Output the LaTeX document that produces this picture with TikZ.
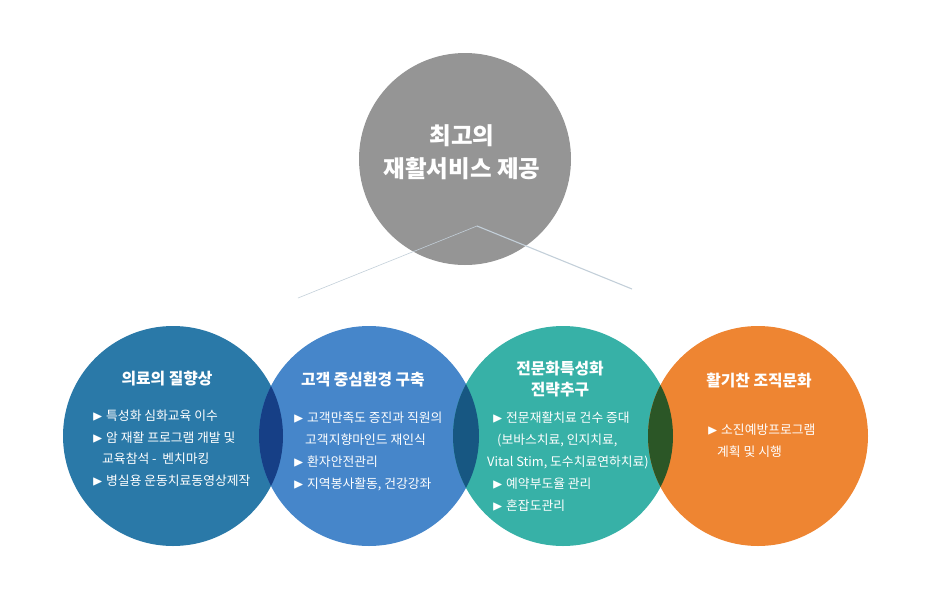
\documentclass[tikz,border=0pt]{standalone}
\usepackage{fontspec}
\usepackage{amssymb}
\setmainfont{Noto Sans CJK KR}
\usetikzlibrary{positioning}

\definecolor{topgray}{HTML}{959595}
\definecolor{careblue}{HTML}{2A79A8}
\definecolor{clientblue}{HTML}{4686CA}
\definecolor{expertteal}{HTML}{37B1A7}
\definecolor{cultureorange}{HTML}{EE8532}
\definecolor{careclient}{HTML}{163F86}
\definecolor{clientexpert}{HTML}{175782}
\definecolor{expertculture}{HTML}{2B5626}
\definecolor{fanline}{HTML}{C3CFD9}

\newcommand{\tri}{\makebox[14pt][l]{\scalebox{1.1}{$\blacktriangleright$}}}

\tikzset{
  bubble/.style={circle, minimum size=220pt, inner sep=0pt, draw=none},
  heading/.style={text=white, font=\bfseries\fontsize{15.8}{21}\selectfont, align=center},
  items/.style={text=white, font=\fontsize{12.8}{21.8}\selectfont, align=left, anchor=north west, inner sep=0pt}
}

\begin{document}
\begin{tikzpicture}[x=1pt,y=-1pt]
  \useasboundingbox (0,0) rectangle (930,590);

  % top circle
  \node[bubble, minimum size=212pt, fill=topgray] (best) at (465,159) {};
  \node[text=white, font=\bfseries\fontsize{23.5}{33}\selectfont, align=center] (besttext) at (462,152) {최고의\\재활서비스 제공};

  % fan lines under the top circle
  \coordinate (apex) at (477,226);
  \coordinate (fanleft) at (298,298);
  \coordinate (fanright) at (632,289);
  \draw[fanline, line width=0.6pt] (apex) -- (fanleft);
  \draw[fanline, line width=1.1pt] (apex) -- (fanright);

  % four circles
  \node[bubble, fill=careblue] (care) at (173,436) {};
  \node[bubble, fill=clientblue] (client) at (369,436) {};
  \node[bubble, fill=expertteal] (expert) at (563,436) {};
  \node[bubble, fill=cultureorange] (culture) at (758,436) {};

  % overlaps
  \begin{scope}
    \clip (care.center) circle (110pt);
    \fill[careclient] (client.center) circle (110pt);
  \end{scope}
  \begin{scope}
    \clip (client.center) circle (110pt);
    \fill[clientexpert] (expert.center) circle (110pt);
  \end{scope}
  \begin{scope}
    \clip (expert.center) circle (110pt);
    \fill[expertculture] (culture.center) circle (110pt);
  \end{scope}

  % headings
  \node[heading] (caretitle) at (167,379) {의료의 질향상};
  \node[heading] (clienttitle) at (363,380) {고객 중심환경 구축};
  \node[heading] (experttitle) at (560,379) {전문화특성화\\전략추구};
  \node[heading] (culturetitle) at (759,381) {활기찬 조직문화};

  % items
  \node[items] (careitems) at (92,409.5) {\tri 특성화 심화교육 이수\\
    \tri 암 재활 프로그램 개발 및\\
    \hspace*{10pt}교육참석 -\ \ 벤치마킹\\
    \tri 병실용 운동치료동영상제작};
  \node[items] (clientitems) at (293,412) {\tri 고객만족도 증진과 직원의\\
    \hspace*{12pt}고객지향마인드 재인식\\
    \tri 환자안전관리\\
    \tri 지역봉사활동, 건강강좌};
  \node[items] (expertitems) at (487,412) {\hspace*{5pt}\tri 전문재활치료 건수 증대\\
    \hspace*{10pt}(보바스치료, 인지치료,\\
    Vital Stim, 도수치료연하치료)\\
    \hspace*{5pt}\tri 예약부도율 관리\\
    \hspace*{5pt}\tri 혼잡도관리};
  \node[items] (cultureitems) at (707,424) {\tri 소진예방프로그램\\
    \hspace*{10pt}계획 및 시행};
\end{tikzpicture}
\end{document}
